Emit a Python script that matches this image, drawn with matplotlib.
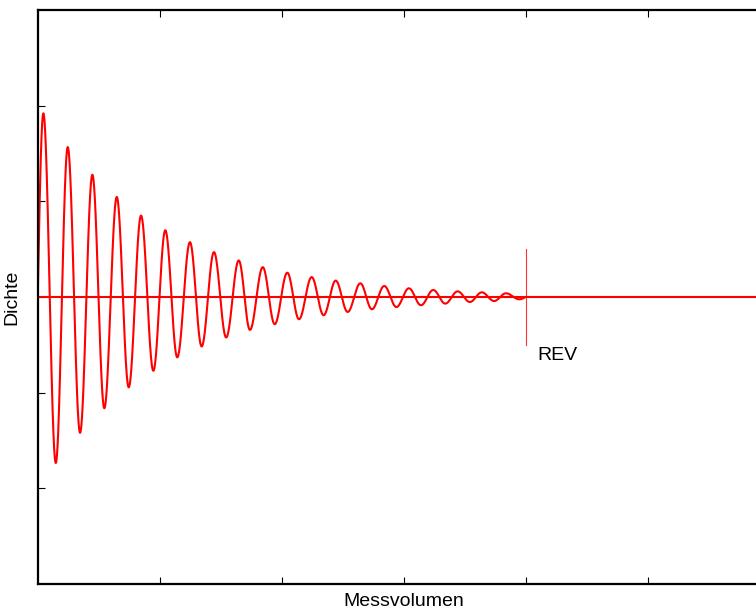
import numpy as np
import matplotlib
matplotlib.use("Agg")
import matplotlib.pyplot as plt

plt.rcParams['font.family'] = ['Liberation Sans', 'DejaVu Sans']

# --- Data (x in Messvolumen units, y in Dichte units) ---
peak_x = [0.046, 0.246, 0.448, 0.648, 0.847, 1.046, 1.248, 1.445, 1.648, 1.845,
          2.046, 2.246, 2.443, 2.645, 2.841, 3.043, 3.243, 3.443, 3.641, 3.839]
peak_y = [1.92, 1.567, 1.278, 1.046, 0.851, 0.698, 0.573, 0.469, 0.382, 0.312,
          0.254, 0.208, 0.171, 0.143, 0.115, 0.091, 0.073, 0.059, 0.049, 0.039]
trough_x = [0.148, 0.347, 0.546, 0.746, 0.948, 1.144, 1.344, 1.545, 1.740, 1.943,
            2.142, 2.344, 2.541, 2.740, 2.941, 3.142, 3.341, 3.543, 3.742, 3.948]
trough_y = [-1.735, -1.42, -1.163, -0.944, -0.771, -0.631, -0.517, -0.423, -0.344, -0.284,
            -0.232, -0.19, -0.156, -0.128, -0.105, -0.086, -0.069, -0.052, -0.042, -0.024]
start_x, end_x = 0.0, 4.0          # curve begins and ends on the zero line
rev_x = 4.0
rev_span = (-0.5, 0.5)
xlim = (0, 6)
ylim = (-3, 3)
xticks = [1, 2, 3, 4, 5]
yticks = [-2, -1, 0, 1, 2]


def smooth_through(kx, ky, n=60):
    """Join extrema with half-cosine arcs, zero knots with quarter-sine arcs."""
    xs, ys = [], []
    for i in range(len(kx) - 1):
        x0, x1, y0, y1 = kx[i], kx[i + 1], ky[i], ky[i + 1]
        t = np.linspace(0, 1, n)
        if y0 == 0:
            y = y1 * np.sin(np.pi / 2 * t)
        elif y1 == 0:
            y = y0 * np.cos(np.pi / 2 * t)
        else:
            y = y0 + (y1 - y0) * (1 - np.cos(np.pi * t)) / 2
        xs.append(x0 + (x1 - x0) * t)
        ys.append(y)
    return np.concatenate(xs), np.concatenate(ys)


knot_x = [start_x]
knot_y = [0.0]
for px, py, tx, ty in zip(peak_x, peak_y, trough_x, trough_y):
    knot_x += [px, tx]
    knot_y += [py, ty]
knot_x.append(end_x)
knot_y.append(0.0)
cx, cy = smooth_through(knot_x, knot_y)

fig = plt.figure(figsize=(7.56, 6.11), dpi=100)
ax = fig.add_axes([0.0499, 0.0442, 0.968, 0.9394])

red = '#ff0000'
ax.plot(cx, cy, color=red, lw=1.5, solid_capstyle='round')
ax.plot(xlim, [0, 0], color=red, lw=1.5)
ax.plot([rev_x, rev_x], rev_span, color=red, lw=0.8, alpha=0.8)
ax.text(rev_x + 0.1, -0.615, 'REV', fontsize=14, va='center', ha='left')

ax.set_xlim(*xlim)
ax.set_ylim(*ylim)
ax.set_xticks(xticks)
ax.set_yticks(yticks)
ax.set_xticklabels([])
ax.set_yticklabels([])
ax.tick_params(direction='in', length=5, width=0.8, top=True, right=True)
for s in ax.spines.values():
    s.set_linewidth(1.6)

ax.set_xlabel('Messvolumen', fontsize=14, labelpad=3)
ax.set_ylabel('Dichte', fontsize=14, labelpad=9)

fig.savefig('out.png', dpi=100)
